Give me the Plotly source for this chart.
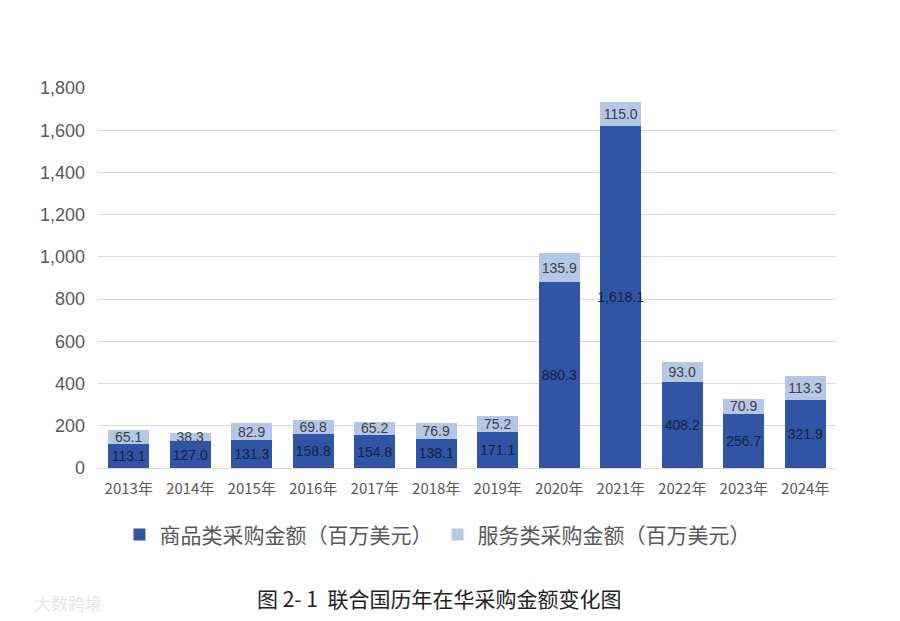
import plotly.graph_objects as go

years = ["2013年", "2014年", "2015年", "2016年", "2017年", "2018年",
         "2019年", "2020年", "2021年", "2022年", "2023年", "2024年"]
goods = [113.1, 127.0, 131.3, 158.8, 154.8, 138.1, 171.1, 880.3, 1618.1, 408.2, 256.7, 321.9]
services = [65.1, 38.3, 82.9, 69.8, 65.2, 76.9, 75.2, 135.9, 115.0, 93.0, 70.9, 113.3]

goods_name = "商品类采购金额（百万美元）"
services_name = "服务类采购金额（百万美元）"
caption = "图 2- 1  联合国历年在华采购金额变化图"

fig = go.Figure()
fig.add_trace(go.Bar(
    x=years, y=goods, name=goods_name,
    marker=dict(color="#2F55A4", line=dict(width=0)),
    texttemplate="%{y:,.1f}", textposition="inside", insidetextanchor="middle",
    textangle=0,
    textfont=dict(size=14, color="#14213D", family="Liberation Sans"),
    constraintext="none",
))
fig.add_trace(go.Bar(
    x=years, y=services, name=services_name,
    marker=dict(color="#B4C7E7", line=dict(width=0)),
    texttemplate="%{y:,.1f}", textposition="inside", insidetextanchor="middle",
    textangle=0,
    textfont=dict(size=14, color="#404040", family="Liberation Sans"),
    constraintext="none",
))

# the page puts the figure 8px in from the top-left corner
fig.update_layout(
    barmode="stack",
    bargap=0.33,
    width=900, height=621,
    margin=dict(l=90, r=72, t=80, b=161, autoexpand=False),
    paper_bgcolor="white", plot_bgcolor="white",
    font=dict(family="Noto Sans CJK SC, Liberation Sans", color="#595959"),
    legend=dict(orientation="h", x=0.46, xanchor="center", y=-0.176, yanchor="middle",
                font=dict(size=21, color="#595959", family="Noto Sans CJK SC"),
                traceorder="normal", itemwidth=30),
    showlegend=True,
)
fig.update_yaxes(range=[0, 1800], dtick=200, tickformat=",", automargin=False,
                 showgrid=True, gridcolor="#D9D9D9", gridwidth=1,
                 zeroline=True, zerolinecolor="#D9D9D9", zerolinewidth=1,
                 showline=False, ticks="", ticklabelstandoff=12,
                 tickfont=dict(size=18, color="#595959", family="Liberation Sans"))
fig.update_xaxes(showline=False, ticks="", automargin=False, ticklabelstandoff=10,
                 tickfont=dict(size=15, color="#595959", family="Noto Sans CJK SC"))

fig.add_annotation(text=caption, xref="paper", yref="paper", x=0.462, y=-0.342,
                   xanchor="center", yanchor="middle", showarrow=False,
                   font=dict(size=21, color="#222222", family="Noto Sans CJK SC"))
fig.add_annotation(text="大数跨境", xref="paper", yref="paper", x=-0.09, y=-0.355,
                   xanchor="left", yanchor="middle", showarrow=False,
                   font=dict(size=17, color="#E6E6E6", family="Noto Sans CJK SC"))

fig.write_html("out.html")
